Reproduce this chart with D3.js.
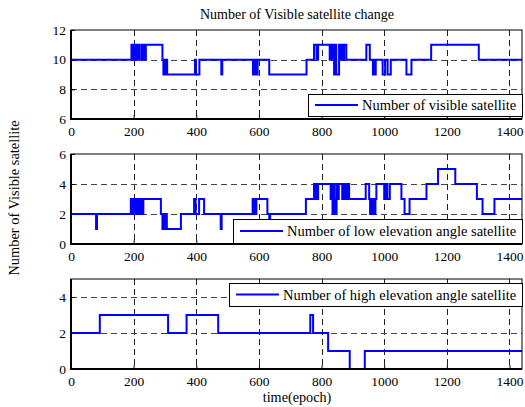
<!DOCTYPE html>
<html>
<head>
<meta charset="utf-8">
<script src="https://cdn.jsdelivr.net/npm/d3@7"></script>
<style>
  body { margin: 0; background: #fff; }
  svg { display: block; font-family: "Liberation Serif", "Times New Roman", serif; }
</style>
</head>
<body>
<svg></svg>
<script>
const title = "Number of Visible satellite change";
const y_label = "Number of Visible satellite";
const x_label = "time(epoch)";

const xTicks = [0, 200, 400, 600, 800, 1000, 1200, 1400];
const epochEnd = 1440;

// step series: epoch where the count changes, and the new count
const visibleEpoch = [0, 193, 197, 200, 204, 207, 211, 214, 218, 225, 229, 232, 236, 239,
  292, 295, 298, 301, 304, 307, 396, 399, 410, 480, 483, 581, 584, 587, 590, 593, 596,
  633, 752, 776, 784, 789, 826, 829, 833, 836, 840, 843, 847, 856, 862, 865, 869, 872,
  879, 943, 954, 964, 967, 970, 973, 995, 1003, 1011, 1021, 1071, 1087, 1150, 1302];
const visibleCount = [10, 11, 10, 11, 10, 11, 10, 11, 10, 11, 10, 11, 10, 11,
  10, 9, 10, 9, 10, 9, 10, 9, 10, 9, 10, 9, 10, 9, 10, 9, 10,
  9, 10, 11, 10, 11, 10, 11, 10, 11, 9, 11, 9, 11, 10, 11, 10, 11,
  10, 11, 10, 9, 10, 9, 10, 9, 10, 9, 10, 9, 10, 11, 10];

const lowEpoch = [0, 80, 83, 191, 194, 197, 200, 203, 207, 210, 214, 217, 221, 224, 228, 231,
  287, 292, 295, 298, 302, 306, 351, 393, 398, 409, 425, 478, 481, 580, 583, 586, 589, 592,
  627, 633, 636, 750, 776, 779, 782, 786, 789, 829, 832, 835, 838, 841, 844, 848, 851, 855,
  866, 869, 873, 876, 880, 884, 888, 941, 952, 955, 958, 961, 964, 968, 972, 975, 1000,
  1005, 1010, 1018, 1055, 1065, 1081, 1135, 1172, 1227, 1296, 1314, 1352];
const lowCount = [2, 1, 2, 3, 2, 3, 2, 3, 2, 3, 2, 3, 2, 3, 2, 3,
  2, 1, 2, 1, 2, 1, 2, 3, 2, 3, 2, 1, 2, 3, 2, 3, 2, 3,
  2, 1, 2, 3, 4, 3, 4, 3, 4, 3, 4, 2, 4, 3, 2, 4, 3, 4,
  3, 4, 3, 4, 3, 4, 3, 4, 3, 2, 3, 2, 3, 2, 3, 4, 3,
  4, 3, 4, 3, 2, 3, 4, 5, 4, 3, 2, 3];

const highEpoch = [0, 92, 310, 369, 470, 764, 773, 821, 890, 938];
const highCount = [2, 3, 2, 3, 2, 3, 2, 1, 0, 1];

const width = 525, height = 407;
const left = 71, right = 522;
const serif = "Liberation Serif, Times New Roman, serif";

const svg = d3.select("svg").attr("width", width).attr("height", height);

const panels = [
  { epochs: visibleEpoch, counts: visibleCount, domain: [6, 12], ticks: [6, 8, 10, 12],
    top: 30, bottom: 119, legend: "Number of visible satellite",
    box: { x: 308, y: 94, w: 214, h: 22 } },
  { epochs: lowEpoch, counts: lowCount, domain: [0, 6], ticks: [0, 2, 4, 6],
    top: 154, bottom: 244, legend: "Number of low elevation angle satellite",
    box: { x: 233, y: 219, w: 289, h: 24 } },
  { epochs: highEpoch, counts: highCount, domain: [0, 5], ticks: [0, 2, 4],
    top: 279, bottom: 369, legend: "Number of high elevation angle satellite",
    box: { x: 229, y: 283, w: 293, h: 23 } }
];

const x_scale = d3.scaleLinear().domain([0, epochEnd]).range([left, right]);

panels.forEach((p, i) => {
  const y_scale = d3.scaleLinear().domain(p.domain).range([p.bottom, p.top]);
  const g = svg.append("g");

  // dashed grid
  g.selectAll(".vgrid")
    .data(xTicks.filter(d => d > 0))
    .enter()
    .append("line")
    .attr("x1", d => Math.round(x_scale(d)) + 0.5)
    .attr("x2", d => Math.round(x_scale(d)) + 0.5)
    .attr("y1", p.top)
    .attr("y2", p.bottom)
    .attr("stroke", "#222")
    .attr("stroke-dasharray", "6,4");

  g.selectAll(".hgrid")
    .data(p.ticks.filter(d => d > p.domain[0] && d < p.domain[1]))
    .enter()
    .append("line")
    .attr("x1", left)
    .attr("x2", right)
    .attr("y1", d => Math.round(y_scale(d)) + 0.5)
    .attr("y2", d => Math.round(y_scale(d)) + 0.5)
    .attr("stroke", "#444")
    .attr("stroke-dasharray", "6,4");

  // axes, ticks pointing inward
  const xa = g.append("g")
    .attr("transform", `translate(0,${p.bottom})`)
    .call(d3.axisBottom(x_scale).tickValues(xTicks).tickFormat(d3.format("d"))
      .tickSize(-4).tickPadding(7));
  const ya = g.append("g")
    .attr("transform", `translate(${left},0)`)
    .call(d3.axisLeft(y_scale).tickValues(p.ticks).tickFormat(d3.format("d"))
      .tickSize(-4).tickPadding(5));
  [xa, ya].forEach(a => {
    a.attr("font-family", serif).attr("font-size", 13.5);
    a.select(".domain").remove();
    a.selectAll("text").attr("fill", "#000");
    a.selectAll("line").attr("stroke", "#000");
  });

  // line
  const clipId = "clip" + i;
  svg.append("clipPath").attr("id", clipId)
    .append("rect")
    .attr("x", left).attr("y", p.top - 2)
    .attr("width", right - left).attr("height", p.bottom - p.top + 2);

  const pts = p.epochs.map((e, k) => [e, p.counts[k]]);
  pts.push([epochEnd, p.counts[p.counts.length - 1]]);

  const line_generator = d3.line()
    .x(d => x_scale(d[0]))
    .y(d => y_scale(d[1]))
    .curve(d3.curveStepAfter);

  g.append("path")
    .attr("clip-path", `url(#${clipId})`)
    .attr("fill", "none")
    .attr("stroke", "#0000ff")
    .attr("stroke-width", 2)
    .attr("d", line_generator(pts));

  // frame
  g.append("rect")
    .attr("x", left).attr("y", p.top)
    .attr("width", right - left).attr("height", p.bottom - p.top)
    .attr("fill", "none")
    .attr("stroke", "#000")
    .attr("stroke-width", 1);
  g.append("path")
    .attr("d", `M${left},${p.top}V${p.bottom}H${right}`)
    .attr("fill", "none")
    .attr("stroke", "#000")
    .attr("stroke-width", 2);

  // legend
  const b = p.box;
  g.append("rect")
    .attr("x", b.x + 0.5).attr("y", b.y + 0.5)
    .attr("width", b.w).attr("height", b.h)
    .attr("fill", "#fff")
    .attr("stroke", "#000");
  g.append("line")
    .attr("x1", b.x + 7).attr("x2", b.x + 50)
    .attr("y1", b.y + b.h / 2).attr("y2", b.y + b.h / 2)
    .attr("stroke", "#0000ff")
    .attr("stroke-width", 2);
  g.append("text")
    .attr("x", b.x + 54)
    .attr("y", b.y + b.h / 2 + 5)
    .style("font-size", "14.5px")
    .text(p.legend);
});

svg.append("text")
  .attr("x", 297)
  .attr("y", 19)
  .attr("text-anchor", "middle")
  .style("font-size", "14px")
  .text(title);

svg.append("text")
  .attr("text-anchor", "middle")
  .attr("transform", "translate(19,198) rotate(-90)")
  .style("font-size", "14.4px")
  .text(y_label);

svg.append("text")
  .attr("x", 297)
  .attr("y", 402)
  .attr("text-anchor", "middle")
  .style("font-size", "14.2px")
  .text(x_label);
</script>
</body>
</html>
